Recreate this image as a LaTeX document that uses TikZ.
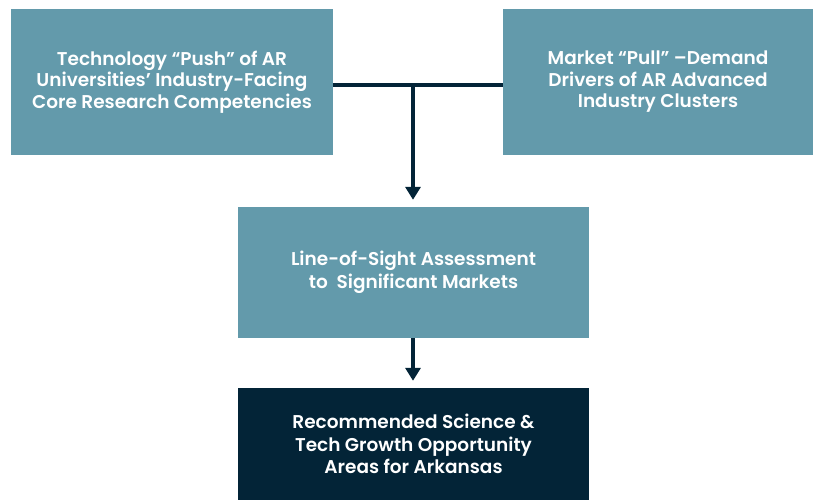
\documentclass[tikz,border=0pt]{standalone}
\usepackage{fontspec}
\setmainfont{Poppins}[BoldFont={Poppins SemiBold}]
\usetikzlibrary{arrows.meta}

\definecolor{tealbox}{HTML}{639AAB}
\definecolor{navybox}{HTML}{032437}

\begin{document}
\begin{tikzpicture}[
    x=1pt, y=-1pt,
    % Styles
    driver/.style={fill=tealbox, text=white, align=center, inner sep=0pt, minimum height=146pt, font=\fontsize{18.5}{21.5}\selectfont\bfseries},
    assess/.style={fill=tealbox, text=white, align=center, inner sep=0pt, minimum width=351pt, minimum height=131pt, font=\fontsize{18.5}{23.5}\selectfont\bfseries},
    result/.style={fill=navybox, text=white, align=center, inner sep=0pt, minimum width=351pt, minimum height=112pt, font=\fontsize{18.5}{22.5}\selectfont\bfseries},
    flow/.style={-{Triangle[length=13pt, width=15pt]}, line width=4pt, navybox, shorten >=7pt},
    link/.style={line width=4pt, navybox},
]
\useasboundingbox (0,0) rectangle (813,500);

% Top row: push and pull
\node[driver, minimum width=322pt] (push) at (172,82) {Technology “Push” of AR\\Universities’ Industry-Facing\\Core Research Competencies};
\node[driver, minimum width=310pt] (pull) at (658,82) {Market “Pull” –Demand\\Drivers of AR Advanced\\Industry Clusters};

% Assessment and result
\node[assess] (los) at (413.5,272.5) {Line-of-Sight Assessment\\to\ \ Significant Markets};
\node[result] (recom) at (413.5,444) {Recommended Science \&\\Tech Growth Opportunity\\Areas for Arkansas};

% Connectors
\coordinate (join) at (413,85);
\draw[link] (push.east |- join) -- (pull.west |- join);
\draw[flow] (join) -- (join |- los.north);
\draw[flow] (los.south -| join) -- (join |- recom.north);

\end{tikzpicture}
\end{document}
